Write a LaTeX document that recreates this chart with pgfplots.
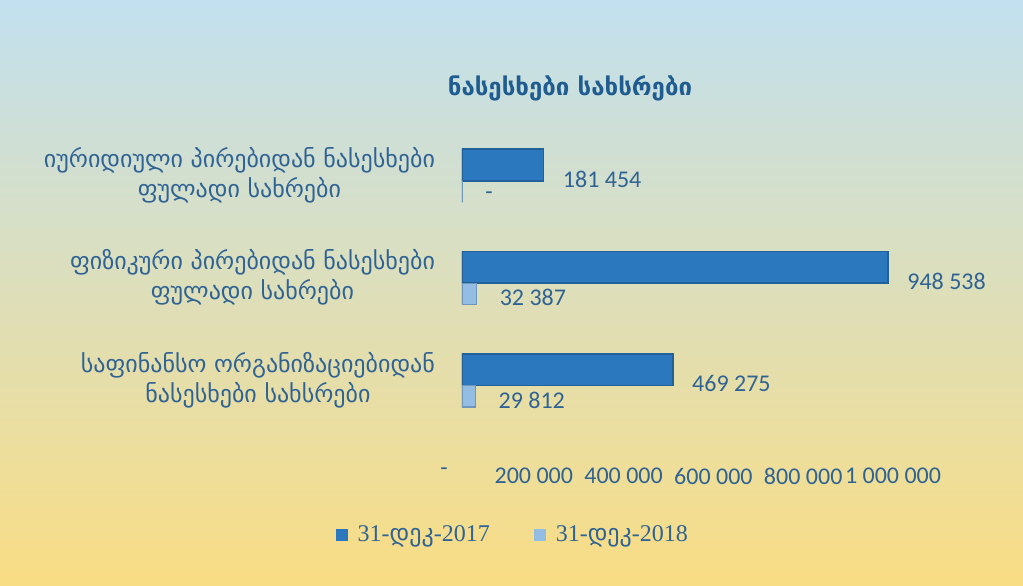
\documentclass[border=0pt]{standalone}
\usepackage{fontspec}
\setmainfont{Carlito}
\newfontfamily\geo{DejaVu Sans}
\newfontfamily\lserif{Liberation Serif}
\usepackage{pgfplots}
\pgfplotsset{compat=1.18}
\definecolor{txt}{HTML}{2F6394}
\definecolor{ttl}{HTML}{1F5C8F}
\definecolor{darkbar}{HTML}{2C78BE}
\definecolor{darkedge}{HTML}{22609A}
\definecolor{lightbar}{HTML}{93BDE3}
\definecolor{lightedge}{HTML}{6F96BA}
\definecolor{bgtop}{HTML}{C2E0EF}
\definecolor{bgmid}{HTML}{F2EAC8}
\definecolor{bgbot}{HTML}{F9DD84}
\begin{document}
\begin{tikzpicture}
\shade[top color=bgtop, middle color=bgmid, bottom color=bgbot] (0pt,0pt) rectangle (511.5pt,292.5pt);
\node[font=\geo\bfseries\fontsize{12}{14}\selectfont, text=ttl] at (285pt,248.5pt) {ნასესხები სახსრები};
\begin{axis}[
  at={(231pt,77pt)}, anchor=south west, scale only axis,
  width=224.5pt, height=153.5pt,
  xmin=0, xmax=1000000, ymin=-0.5, ymax=2.5,
  y dir=reverse,
  axis line style={draw=none}, major tick length=0pt,
  xtick={0,200000,400000,600000,800000,1000000},
  xticklabels={-, 200 000, 400 000, 600 000, 800 000, 1 000 000},
  xticklabel style={font=\fontsize{12}{14}\selectfont, text=txt, yshift=-15pt, xshift=-9pt},
  ytick={0,1,2},
  yticklabels={{იურიდიული პირებიდან ნასესხები\\ფულადი სახრები},{ფიზიკური პირებიდან ნასესხები\\ფულადი სახრები},{საფინანსო ორგანიზაციებიდან\\ნასესხები სახსრები}},
  yticklabel style={font=\geo\fontsize{12}{15}\selectfont, text=txt, align=center, xshift=-10pt},
  scaled x ticks=false,
  xbar,
  point meta=explicit symbolic,
  nodes near coords,
  legend columns=2,
  legend style={at={(axis description cs:0.122,-0.339)}, anchor=center, draw=none, fill=none,
    font=\lserif\fontsize{12}{14}\selectfont, text=txt,
    /tikz/every even column/.append style={column sep=17pt},
    nodes={inner xsep=5pt}},
  legend image code/.code={\fill[#1,draw=none] (0pt,-3pt) rectangle (6pt,3pt);},
]
\addplot[fill=darkbar, draw=darkedge, line width=0.8pt, bar width=0.31, bar shift=-0.1,
  nodes near coords style={font=\fontsize{12}{14}\selectfont, text=txt, anchor=west, xshift=6pt, yshift=-7pt}]
  coordinates {(181454,0) [181 454] (948538,1) [948 538] (469275,2) [469 275]};
\addplot[fill=lightbar, draw=lightedge, line width=0.6pt, bar width=0.21, bar shift=0.16,
  nodes near coords style={font=\fontsize{12}{14}\selectfont, text=txt, anchor=west, xshift=8pt, yshift=-2pt}]
  coordinates {(0,0) [-] (32387,1) [32 387] (29812,2) [29 812]};
\legend{31-{\geo დეკ}-2017, 31-{\geo დეკ}-2018}
\end{axis}
\end{tikzpicture}
\end{document}
